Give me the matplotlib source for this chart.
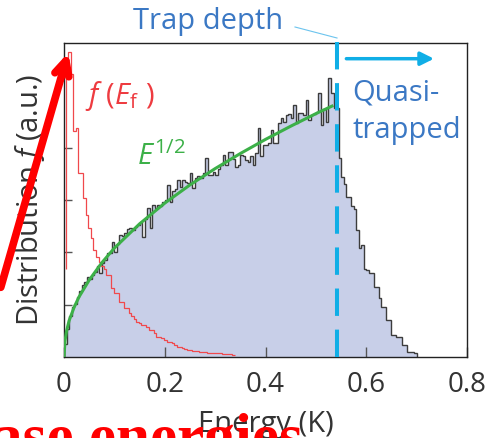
import matplotlib as mpl
from matplotlib import pyplot as plt

mpl.rcParams['font.family'] = ['Open Sans', 'DejaVu Sans']
mpl.rcParams['mathtext.fontset'] = 'custom'
mpl.rcParams['mathtext.rm'] = 'Open Sans'
mpl.rcParams['mathtext.it'] = 'Open Sans:italic'

# blue histogram (all atoms), bin width 0.005 K starting at 0
blue_width = 0.005
blue_counts = [
    4, 9, 13, 16, 17, 19, 21, 23, 24, 25.5,
    25, 26, 27, 29, 26.8, 30, 31, 33, 33, 36.7,
    33.5, 36, 38.9, 38.5, 39.5, 40.8, 41, 40.5, 41.5, 42,
    43, 38.3, 44, 47.4, 41, 48.4, 47.5, 48.4, 48, 49.5,
    50, 54.8, 49.5, 53, 53.5, 56.4, 54.2, 56.4, 55.8, 55.5,
    58.6, 53.8, 57, 57.5, 57, 58.5, 63.4, 58, 58, 59,
    58, 60, 61, 64.3, 61, 65.4, 65.4, 63, 60.6, 61,
    64.3, 64, 62.7, 62, 64, 61, 65, 72.8, 64, 67.5,
    67.5, 68.2, 72.3, 68.2, 68.2, 74.5, 76, 75, 77, 77.5,
    76, 80.3, 74.5, 77.7, 77.7, 77, 81.8, 75.5, 77, 77.5,
    78, 84, 73.9, 79, 75, 88.8, 84, 79.3, 79.3, 63.4,
    57.4, 55, 51, 51, 48, 47, 40.4, 34.7, 35.7, 28,
    27.7, 26.8, 26.8, 22.4, 22.4, 18.8, 16, 16, 11.8, 11.8,
    7, 7, 6.5, 6.5, 3.8, 3.8, 1.7, 1.7, 1.7, 1.2,
]

# red histogram f(E_f), bin width 0.005 K starting at 0.0035
red_start = 0.0035
red_width = 0.005
red_floor = 28
red_counts = [
    92, 97, 90, 72, 73, 58.5, 58.5, 50.6, 45.2, 41,
    38, 34, 32, 30.4, 29, 28, 26, 26, 22, 20.4,
    20.4, 17.6, 17.6, 15.6, 15.6, 14, 13, 12, 11.2, 10.8,
    10.2, 10.2, 9.5, 8.6, 8.6, 7.5, 6.5, 6.5, 6, 5.5,
    4.9, 4.9, 4.5, 3.8, 3.3, 3.3, 3, 2.6, 2.2, 2.2,
    2.0, 2.0, 1.8, 1.6, 1.6, 1.5, 1.4, 1.4, 1.3, 1.3,
    1.2, 1.2, 1.1, 1.0, 1.0, 0.8, 0.6,
]

# E^1/2 guide curve
green_E = [0, 0.002, 0.005, 0.01, 0.02, 0.03, 0.05, 0.075, 0.1, 0.15,
           0.2, 0.25, 0.3, 0.35, 0.4, 0.45, 0.5, 0.532]
green_y = [0, 5.2, 8.2, 11.5, 15.8, 19.2, 24.5, 30.0, 34.7, 42.4,
           49.0, 54.8, 60.0, 64.8, 69.3, 73.5, 77.5, 79.9]

trap_depth = 0.542
x_ticks = [0, 0.2, 0.4, 0.6, 0.8]
x_labels = ['0', '0.2', '0.4', '0.6', '0.8']
y_ticks = [100 / 6, 200 / 6, 300 / 6, 400 / 6]

blue_edges = [i * blue_width for i in range(len(blue_counts) + 1)]
red_edges = [red_start + i * red_width for i in range(len(red_counts) + 1)]

txt_blue = '#3b78c4'
cyan = '#10aee6'
dark = '#333333'
fs = 21

W, H = 489, 438
fig = plt.figure(figsize=(W / 100, H / 100), dpi=100)
ax = fig.add_axes([64 / W, 1 - 357 / H, (467 - 64) / W, (357 - 43) / H])

ax.stairs(blue_counts, blue_edges, fill=True, color='#c8cfe8', zorder=1)
ax.stairs(blue_counts, blue_edges, color='#3c3c3c', lw=1.0, zorder=2)
ax.stairs(red_counts, red_edges, baseline=None, color='#f0484c', lw=0.9, zorder=3)
ax.vlines(red_edges[0], red_floor, red_counts[0], color='#f0484c', lw=0.9, zorder=3)
ax.plot(green_E, green_y, color='#3cb048', lw=2.2, zorder=4)
ax.plot([trap_depth, trap_depth], [0, 101.6], color=cyan, lw=2.9, ls=(0, (6.8, 3.4)),
        clip_on=False, zorder=5)

ax.set_xlim(0, 0.8)
ax.set_ylim(0, 100)
ax.set_xticks(x_ticks)
ax.set_xticklabels(x_labels)
ax.set_yticks(y_ticks)
ax.tick_params(axis='x', direction='in', length=7, width=1, color='#555555',
               labelsize=20, labelcolor=dark, pad=10)
ax.tick_params(axis='y', direction='in', length=6, width=1, color='#555555',
               labelleft=False)
for s in ax.spines.values():
    s.set_color('#222222')
    s.set_linewidth(1)

ax.set_ylabel(r'Distribution $f$ (a.u.)', fontsize=fs, color=dark, labelpad=12)
ax.set_xlabel('Energy (K)', fontsize=fs, color=dark, labelpad=8)

ax.text(0.041, 80.5, r'$f\ (E_\mathrm{f}\ )$', fontsize=fs, color='#ee3b40')
ax.text(0.145, 61, r'$E^{1/2}$', fontsize=fs, color='#3cb048')

fig.text(133 / W, 1 - 22 / H, 'Trap depth', fontsize=fs, color=txt_blue, va='center')
fig.add_artist(plt.Line2D([295 / W, 337 / W], [1 - 27 / H, 1 - 38 / H],
                          color='#6cc4ee', lw=0.8))
ax.annotate('', xy=(0.74, 95), xytext=(0.555, 95),
            arrowprops=dict(arrowstyle='-|>', color=cyan, lw=2.5,
                            mutation_scale=20), annotation_clip=False)
ax.text(0.572, 81.8, 'Quasi-', fontsize=fs, color=txt_blue)
ax.text(0.572, 69.7, 'trapped', fontsize=fs, color=txt_blue)

# red overlay from the slide
fig.text(-8 / W, 1 - 456 / H, 'ase energies', fontsize=44, color='red',
         family='Liberation Serif', weight='bold', va='baseline')
ax.annotate('', xy=(69 / W, 1 - 50 / H), xytext=(0, 1 - 290 / H),
            xycoords='figure fraction', textcoords='figure fraction',
            arrowprops=dict(arrowstyle='->', color='red', lw=5.5,
                            mutation_scale=26), annotation_clip=False)

fig.savefig('out.png', dpi=100)
